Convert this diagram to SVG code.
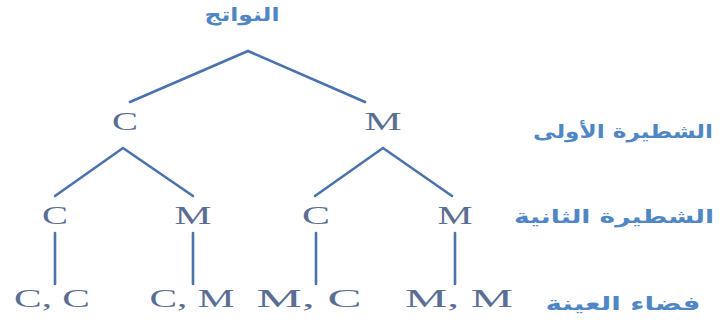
<svg xmlns="http://www.w3.org/2000/svg" width="723" height="322" viewBox="0 0 723 322">
<style>
.e{stroke:#4a72ad;stroke-width:2.6;fill:none;stroke-linecap:round}
.n{font-family:"Liberation Serif","Times New Roman",serif;font-size:25px;fill:#5a6e93;text-anchor:middle}
.a{font-family:"DejaVu Sans","Noto Sans",sans-serif;font-weight:bold;font-size:19px;fill:#4f86c4;text-anchor:middle}
</style>
<rect width="723" height="322" fill="#ffffff"/>
<g id="connectors">
<polyline class="e" points="130,102 248,51 365,102"/>
<polyline class="e" points="55,196 123,148 193,196"/>
<polyline class="e" points="315,196 383,148 452,196"/>
<line class="e" x1="55" y1="233" x2="55" y2="284"/>
<line class="e" x1="193" y1="233" x2="193" y2="284"/>
<line class="e" x1="316" y1="233" x2="316" y2="284"/>
<line class="e" x1="455" y1="233" x2="455" y2="284"/>
</g>
<g id="root"><text class="a" x="242" y="21" textLength="75" lengthAdjust="spacingAndGlyphs" direction="rtl">النواتج</text></g>
<g id="c1"><text class="n" x="125" y="130" textLength="26" lengthAdjust="spacingAndGlyphs">C</text></g>
<g id="m1"><text class="n" x="383" y="130" textLength="37" lengthAdjust="spacingAndGlyphs">M</text></g>
<g id="cc"><text class="n" x="55" y="224" textLength="26" lengthAdjust="spacingAndGlyphs">C</text></g>
<g id="cm"><text class="n" x="193" y="224" textLength="37" lengthAdjust="spacingAndGlyphs">M</text></g>
<g id="mc"><text class="n" x="316" y="224" textLength="28" lengthAdjust="spacingAndGlyphs">C</text></g>
<g id="mm"><text class="n" x="455" y="224" textLength="35" lengthAdjust="spacingAndGlyphs">M</text></g>
<g id="s1"><text class="n" x="52" y="307" textLength="76" lengthAdjust="spacingAndGlyphs">C, C</text></g>
<g id="s2"><text class="n" x="192" y="307" textLength="85" lengthAdjust="spacingAndGlyphs">C, M</text></g>
<g id="s3"><text class="n" x="309" y="307" textLength="105" lengthAdjust="spacingAndGlyphs">M, C</text></g>
<g id="s4"><text class="n" x="459" y="307" textLength="108" lengthAdjust="spacingAndGlyphs">M, M</text></g>
<g id="label1"><text class="a" x="623" y="138" textLength="180" lengthAdjust="spacingAndGlyphs" direction="rtl">الشطيرة الأولى</text></g>
<g id="label2"><text class="a" x="614" y="223" textLength="200" lengthAdjust="spacingAndGlyphs" direction="rtl">الشطيرة الثانية</text></g>
<g id="label3"><text class="a" x="623" y="310" textLength="155" lengthAdjust="spacingAndGlyphs" direction="rtl">فضاء العينة</text></g>
</svg>
